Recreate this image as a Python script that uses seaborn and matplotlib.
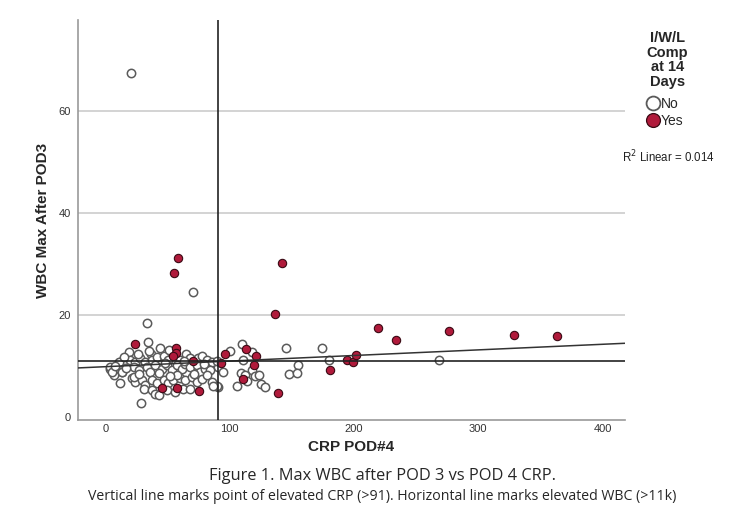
import numpy as np
import pandas as pd
import matplotlib
matplotlib.use("Agg")
import matplotlib.pyplot as plt
from matplotlib.lines import Line2D
import seaborn as sns

# ---- data ----
no_crp = [20.8, 70.5, 145.6, 174.7, 155.0, 147.5, 154.0, 179.8, 268.8,
          110.0, 100.0, 117.6, 110.9, 90.8, 94.8, 117.6, 109.0, 112.2, 113.6,
          120.2, 123.7, 125.6, 128.3, 105.6, 90.3,
          18.7, 12.0, 16.0, 20.0, 24.0, 28.1, 32.1, 36.6, 37.4, 41.4, 44.1, 46.8,
          50.8, 51.6, 60.1, 65.0, 68.1, 74.8, 77.5, 82.0, 85.5, 89.5,
          4.0, 6.7, 13.4, 22.7, 26.7, 33.4, 36.1, 40.1, 45.4, 49.4, 53.4, 57.5,
          61.5, 64.1, 68.1, 73.5, 76.2, 80.2, 84.2,
          12.0, 21.4, 24.0, 29.4, 32.1, 37.4, 41.4, 46.8, 50.8, 54.8, 60.1, 64.1,
          69.5, 73.5, 77.5, 81.5, 85.5, 89.5,
          30.7, 37.4, 40.1, 42.8, 49.4, 56.1, 62.8, 68.1, 86.8,
          28.9, 33.4, 34.2, 4.0, 5.3, 13.4, 10.7, 14.7, 22.7,
          8.0, 17.0, 27.0, 43.0, 48.0, 58.0, 63.0, 71.0, 79.0, 26.0, 35.0, 52.0]
no_wbc = [67.6, 24.5, 13.5, 13.5, 10.3, 8.5, 8.7, 11.3, 11.2,
          14.4, 13.0, 12.7, 11.3, 9.9, 8.8, 9.2, 8.7, 8.2, 7.1,
          8.0, 8.2, 6.4, 5.9, 6.1, 5.9,
          12.8, 10.8, 11.2, 11.2, 10.9, 11.5, 10.8, 12.3, 11.2, 11.8, 13.6, 12.0,
          11.3, 13.1, 11.3, 12.3, 11.5, 11.5, 12.0, 11.2, 10.9, 11.0,
          9.5, 8.2, 8.9, 9.9, 9.2, 9.9, 8.9, 10.2, 9.5, 10.2, 9.2, 10.2,
          9.5, 10.5, 9.9, 10.2, 8.9, 9.5, 9.2,
          6.6, 7.7, 6.9, 7.3, 6.3, 7.3, 6.6, 7.3, 6.6, 7.3, 7.6, 7.3,
          7.9, 6.9, 7.4, 8.2, 6.9, 6.1,
          5.6, 5.3, 4.6, 4.3, 5.4, 5.0, 5.6, 5.6, 6.1,
          2.8, 18.4, 14.8, 9.9, 8.9, 8.9, 10.8, 11.8, 7.9,
          10.1, 9.6, 8.4, 8.6, 10.6, 8.3, 11.0, 8.4, 10.4, 12.4, 12.9, 8.1]

yes_crp = [58.5, 55.3, 141.9, 136.8, 138.7, 180.4, 194.5, 199.6, 202.0, 219.4,
           233.8, 276.3, 329.2, 363.4, 113.0, 96.2, 121.0, 92.7, 119.7, 110.9,
           23.5, 56.7, 56.7, 54.8, 70.8, 45.4, 57.5, 75.6]
yes_wbc = [31.2, 28.2, 30.2, 20.2, 4.7, 9.2, 11.2, 10.8, 12.2, 17.4,
           15.2, 16.9, 16.2, 16.0, 13.3, 12.3, 12.0, 10.7, 10.3, 7.5,
           14.3, 13.6, 12.5, 12.0, 11.0, 5.8, 5.8, 5.2]

crp_cutoff = 91
wbc_cutoff = 11
r2_text = "R$^2$ Linear = 0.014"
legend_title = "I/W/L\nComp\nat 14\nDays"
legend_labels = ["No", "Yes"]
x_ticks = [0, 100, 200, 300, 400]
y_ticks = [0, 20, 40, 60]

df = pd.DataFrame({
    "CRP": no_crp + yes_crp,
    "WBC": no_wbc + yes_wbc,
    "Comp": ["No"] * len(no_crp) + ["Yes"] * len(yes_crp),
})

sns.set_style("white")
plt.rcParams["font.family"] = ["Liberation Sans", "DejaVu Sans"]

fig = plt.figure(figsize=(7.43, 5.08), dpi=100)
ax = fig.add_axes([0.105, 0.173, 0.736, 0.788])
ax.set_xlim(-22, 418)
ax.set_ylim(-0.6, 78)

for yv in [20, 40, 60]:
    ax.axhline(yv, color="#cccccc", lw=1.2, zorder=0)

red = "#b01a3b"
sns.scatterplot(data=df[df.Comp == "No"], x="CRP", y="WBC", ax=ax,
                color="white", edgecolor="#5a5a5a", linewidth=1.1, s=36,
                legend=False, zorder=3)
sns.scatterplot(data=df[df.Comp == "Yes"], x="CRP", y="WBC", ax=ax,
                color=red, edgecolor="#3a0a14", linewidth=0.8, s=36,
                legend=False, zorder=4)

sns.regplot(data=df, x="CRP", y="WBC", ax=ax, scatter=False, ci=None,
            truncate=False, line_kws=dict(color="#333333", lw=1.1, zorder=5))
ax.set_xlim(-22, 418)
ax.set_ylim(-0.6, 78)

ax.axvline(crp_cutoff, color="#222222", lw=1.2, zorder=5)
ax.axhline(wbc_cutoff, color="#222222", lw=1.2, zorder=5)

ax.set_xticks(x_ticks)
ax.set_yticks(y_ticks)
ax.tick_params(axis="both", length=0, labelsize=8, colors="#333333")
ax.tick_params(axis="x", pad=3)
ax.tick_params(axis="y", pad=5)
for sp in ["top", "right"]:
    ax.spines[sp].set_visible(False)
for sp in ["left", "bottom"]:
    ax.spines[sp].set_color("#999999")
    ax.spines[sp].set_linewidth(1.2)

ax.set_xlabel("CRP POD#4", fontsize=11, fontweight="bold", labelpad=4)
ax.set_ylabel("WBC Max After POD3", fontsize=11, fontweight="bold", labelpad=6)

handles = [
    Line2D([], [], marker="o", ls="", markerfacecolor="white",
           markeredgecolor="#5a5a5a", markersize=10, markeredgewidth=1.3),
    Line2D([], [], marker="o", ls="", markerfacecolor=red,
           markeredgecolor="#3a0a14", markersize=10, markeredgewidth=0.9),
]
leg = fig.legend(handles, legend_labels, title=legend_title,
                 loc="upper left", bbox_to_anchor=(0.857, 0.958), frameon=False,
                 handletextpad=0.05, labelspacing=0.2, fontsize=10,
                 title_fontproperties=dict(weight="bold", size=10.5),
                 handlelength=1.0, borderpad=0.2)
leg._legend_box.align = "left"
leg._legend_box.sep = 6
leg.get_title().set_ha("center")
leg.get_title().set_linespacing(1.05)

fig.text(0.837, 0.681, r2_text, fontsize=8.3, color="#222222", ha="left")

fig.text(0.515, 0.055, "Figure 1. Max WBC after POD 3 vs POD 4 CRP.",
         fontsize=11.8, ha="center", family=["Open Sans", "DejaVu Sans"])
fig.text(0.515, 0.015, "Vertical line marks point of elevated CRP (>91). Horizontal line marks elevated WBC (>11k)",
         fontsize=10.2, ha="center", family=["Open Sans", "DejaVu Sans"])

fig.savefig("out.png", dpi=100)
